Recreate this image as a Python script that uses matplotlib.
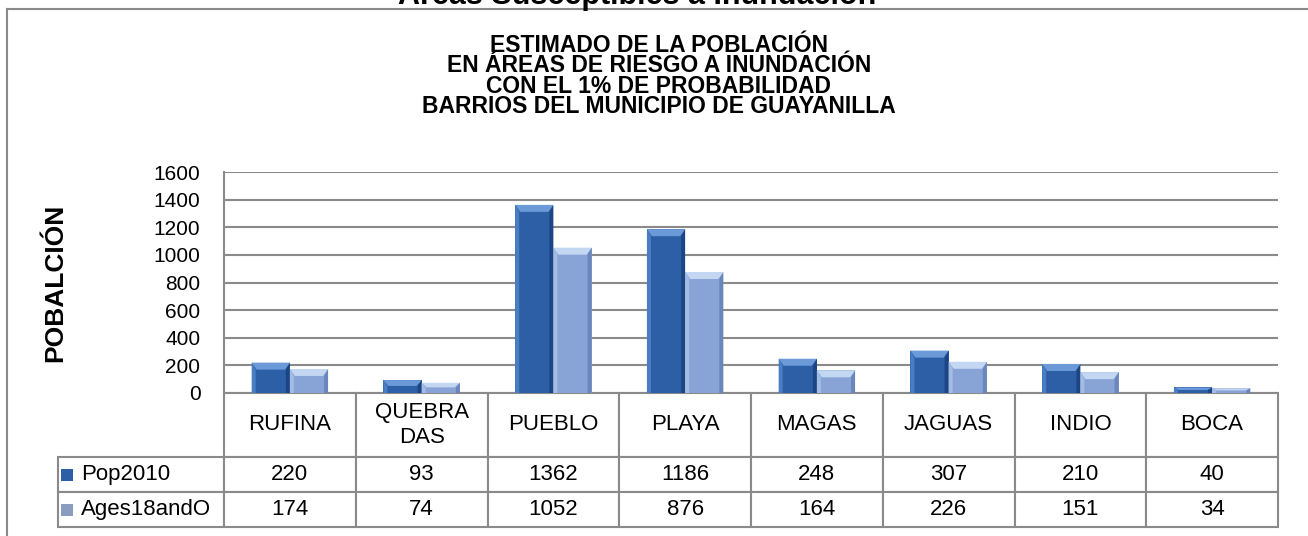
import matplotlib
matplotlib.use("Agg")
import matplotlib.pyplot as plt
from matplotlib.patches import Rectangle, Polygon
from matplotlib.lines import Line2D

plt.rcParams['font.family'] = ['Liberation Sans', 'DejaVu Sans']

# ---- data ----
categories = ["RUFINA", "QUEBRA\nDAS", "PUEBLO", "PLAYA", "MAGAS", "JAGUAS", "INDIO", "BOCA"]
pop2010 = [220, 93, 1362, 1186, 248, 307, 210, 40]
ages18 = [174, 74, 1052, 876, 164, 226, 151, 34]
series_names = ["Pop2010", "Ages18andO"]
yticks = [0, 200, 400, 600, 800, 1000, 1200, 1400, 1600]
main_title = "Áreas Susceptibles a Inundación"
subtitle = ["ESTIMADO DE LA POBLACIÓN", "EN ÁREAS DE RIESGO A INUNDACIÓN",
            "CON EL 1% DE PROBABILIDAD", "BARRIOS DEL MUNICIPIO DE GUAYANILLA"]
ylabel = "POBALCIÓN"

W, H = 1308, 536
fig = plt.figure(figsize=(W / 100, H / 100), dpi=100)
fig.patch.set_facecolor('white')

L, R, T, B = 224, 1278, 172, 393
ax = fig.add_axes([L / W, 1 - B / H, (R - L) / W, (B - T) / H])
AW, AH = R - L, B - T

grid_c = '#8a8a8a'
n = len(categories)
bw = 0.29
xs = list(range(n))

styles = [
    dict(face='#2C5FA6', top='#6C9AD8', left='#4A7EC4', right='#1C4683'),
    dict(face='#88A4D6', top='#C3D6F2', left='#A4BCE4', right='#6A86BA'),
]

px_x = n / AW          # data units per pixel (x)
px_y = 1600 / AH       # data units per pixel (y)

for si, vals in enumerate([pop2010, ages18]):
    offs = -bw / 2 if si == 0 else bw / 2
    bars = ax.bar([x + offs for x in xs], vals, width=bw, color=styles[si]['face'],
                  edgecolor='none', zorder=3)
    st = styles[si]
    for p in bars:
        x0, w, h = p.get_x(), p.get_width(), p.get_height()
        dx = 5 * px_x
        dy = min(7 * px_y, h * 0.45)
        sx = 4 * px_x
        ax.add_patch(Polygon([(x0, 0), (x0 + sx, 0), (x0 + sx, h - dy), (x0, h)],
                             closed=True, color=st['left'], lw=0, zorder=4))
        ax.add_patch(Polygon([(x0 + w, 0), (x0 + w - sx, 0), (x0 + w - sx, h - dy), (x0 + w, h)],
                             closed=True, color=st['right'], lw=0, zorder=4))
        ax.add_patch(Polygon([(x0, h), (x0 + w, h), (x0 + w - dx, h - dy), (x0 + dx, h - dy)],
                             closed=True, color=st['top'], lw=0, zorder=4))

ax.set_xlim(-0.5, n - 0.5)
ax.set_ylim(0, 1600)
ax.set_yticks(yticks)
ax.set_yticklabels([str(t) for t in yticks])
ax.set_xticks([])
ax.tick_params(axis='y', length=0, labelsize=15, pad=17)
ax.yaxis.grid(True, color=grid_c, lw=1.5, zorder=0)
ax.set_axisbelow(True)
for s in ['top', 'right', 'bottom']:
    ax.spines[s].set_visible(False)
ax.spines['left'].set_color(grid_c)
ax.spines['left'].set_linewidth(1.5)

# ---- data table ----
cell_text = [[str(v) for v in pop2010], [str(v) for v in ages18]]
tab = ax.table(cellText=cell_text, rowLabels=series_names, colLabels=categories,
               cellLoc='center', rowLoc='left', colLoc='center', loc='bottom')
tab.auto_set_font_size(False)
tab.set_fontsize(16)
for (r, c), cell in tab.get_celld().items():
    cell.set_edgecolor(grid_c)
    cell.set_linewidth(1.5)
    cell.set_height((64 if r == 0 else 35) / AH)
    if c == -1:
        cell.set_width(172 / AW)
        cell.PAD = 24 / 172
    else:
        cell.set_width(1 / n)

# legend keys in the row-label cells
key_cols = ['#2C5FA6', '#8A9CC0']
for i, kc in enumerate(key_cols):
    cy = [474.5, 509.5][i]
    ax.add_patch(Rectangle(((61 - L) / AW, -(cy + 6 - B) / AH), 12 / AW, 12 / AH,
                           transform=ax.transAxes, clip_on=False, facecolor=kc,
                           edgecolor='none', zorder=6))

# ---- titles ----
fig.text(637 / W, 1 - 4 / H, main_title, ha='center', va='baseline', fontsize=22, weight='bold')
fig.text(659 / W, 1 - 34 / H, "\n".join(subtitle), ha='center', va='top', fontsize=16.5,
         weight='bold', linespacing=0.85)
fig.text(55 / W, 1 - 283 / H, ylabel, rotation=90, ha='center', va='center', fontsize=19,
         weight='bold')

# ---- outer frame ----
fig.add_artist(Line2D([7 / W, 7 / W], [0, 1 - 9 / H], color=grid_c, lw=1.5))
fig.add_artist(Line2D([7 / W, 1], [1 - 9 / H, 1 - 9 / H], color=grid_c, lw=1.5))

fig.savefig('out.png', dpi=100)
